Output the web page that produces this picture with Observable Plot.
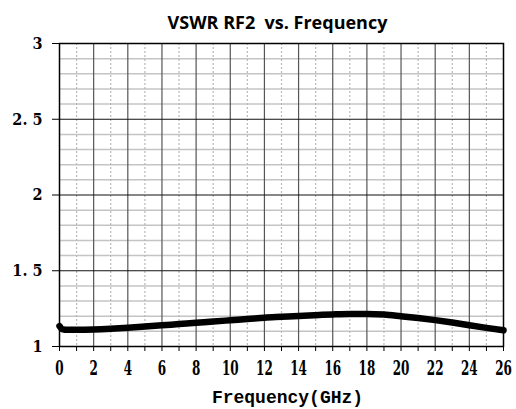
<!DOCTYPE html>
<html>
<head>
<meta charset="utf-8">
<script src="https://cdn.jsdelivr.net/npm/d3@7"></script>
<script src="https://cdn.jsdelivr.net/npm/@observablehq/plot@0.6"></script>
<style>
  html, body { margin: 0; padding: 0; background: #fff; }
  #chart svg { display: block; }
</style>
</head>
<body>
<div id="chart"></div>
<script>
const title = "VSWR RF2  vs. Frequency";
const xLabel = "Frequency(GHz)";
const freq = [0, 0.15, 0.5, 1, 2, 3, 4, 5, 6, 7, 8, 9, 10, 11, 12, 13, 14, 15, 16, 17, 18, 19, 20, 21, 22, 23, 24, 25, 26];
const vswr = [1.135, 1.115, 1.11, 1.11, 1.112, 1.117, 1.124, 1.132, 1.14, 1.148, 1.156, 1.165, 1.173, 1.181, 1.19, 1.196, 1.202, 1.207, 1.212, 1.215, 1.215, 1.211, 1.2, 1.188, 1.174, 1.158, 1.14, 1.123, 1.107];
const xMajor = [2, 4, 6, 8, 10, 12, 14, 16, 18, 20, 22, 24];
const xMinor = [1, 3, 5, 7, 9, 11, 13, 15, 17, 19, 21, 23, 25];
const xTicks = d3.range(0, 27, 1);
const yMajor = [1.5, 2, 2.5];
const yMinor = [1.1, 1.2, 1.3, 1.4, 1.6, 1.7, 1.8, 1.9, 2.1, 2.2, 2.3, 2.4, 2.6, 2.7, 2.8, 2.9];
const yTicks = [1, 1.5, 2, 2.5, 3];
const yTickLabels = ["1", "1. 5", "2", "2. 5", "3"];

const data = freq.map((f, i) => ({f, v: vswr[i]}));

const plot = Plot.plot({
  width: 516,
  height: 409,
  marginTop: 43,
  marginBottom: 63,
  marginLeft: 59,
  marginRight: 13,
  style: {background: "#fff", color: "#000"},
  x: {domain: [0, 26]},
  y: {domain: [1, 3]},
  marks: [
    Plot.ruleY(yMinor, {stroke: "#c4c4c4", strokeWidth: 1.5}),
    Plot.ruleX(xMinor, {stroke: "#b8b8b8", strokeWidth: 1.2, strokeDasharray: "2,2"}),
    Plot.ruleX(xMajor, {stroke: "#555", strokeWidth: 1.2}),
    Plot.ruleY(yMajor, {stroke: "#111", strokeWidth: 1.2}),
    Plot.frame({stroke: "#000", strokeWidth: 1.5}),
    Plot.line(data, {x: "f", y: "v", stroke: "#000", strokeWidth: 6.5, curve: "monotone-x"}),
    Plot.axisX({
      ticks: xTicks,
      tickSize: 5,
      tickPadding: 9,
      tickFormat: d => (d % 2 === 0 ? String(d) : ""),
      fontSize: 20,
      fontWeight: "bold",
      fontFamily: "DejaVu Serif",
      label: null
    }),
    Plot.axisY({
      ticks: yTicks,
      tickSize: 7,
      tickPadding: 10,
      tickFormat: d => yTickLabels[yTicks.indexOf(d)],
      fontSize: 17,
      fontWeight: "bold",
      fontFamily: "DejaVu Serif",
      label: null
    }),
    Plot.text([title], {
      frameAnchor: "top",
      dx: -4,
      dy: -15,
      lineAnchor: "bottom",
      fontSize: 18,
      fontWeight: "bold",
      fontFamily: "Open Sans",
      fill: "#000"
    }),
    Plot.text([xLabel], {
      frameAnchor: "bottom",
      dx: 6,
      dy: 56,
      lineAnchor: "bottom",
      fontSize: 18,
      fontWeight: "bold",
      fontFamily: "Liberation Mono",
      fill: "#000"
    })
  ]
});

document.getElementById("chart").appendChild(plot);

// narrow the tick digits to resemble the original's tall condensed glyphs
d3.select(plot).selectAll('g[aria-label="x-axis tick label"] text').each(function () {
  const t = this.getAttribute("transform");
  if (t) this.setAttribute("transform", t + " scale(0.6,1)");
});
d3.select(plot).selectAll('g[aria-label="y-axis tick label"] text').each(function () {
  const t = this.getAttribute("transform");
  if (t) this.setAttribute("transform", t + " scale(0.85,1)");
});
</script>
</body>
</html>
